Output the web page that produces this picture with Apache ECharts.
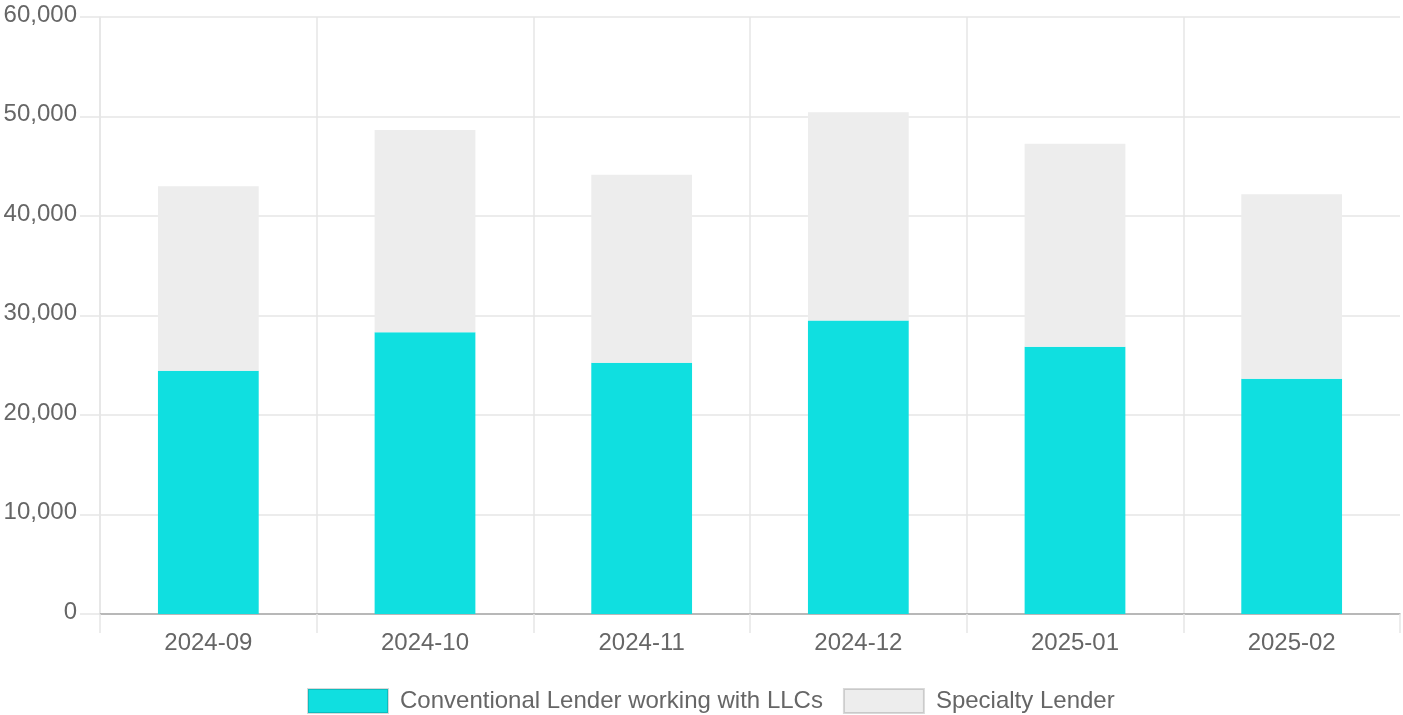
<!DOCTYPE html>
<html>
<head>
<meta charset="utf-8">
<title>Lender mix</title>
<script src="https://cdn.jsdelivr.net/npm/echarts@6/dist/echarts.min.js"></script>
<style>
html,body{
margin:0;
padding:0;
background:#fff;
}
#chart{
width:1403px;
height:715px;
}
</style>
</head>
<body>

<div id="chart"></div>

<script>

const months=["2024-09","2024-10","2024-11","2024-12","2025-01","2025-02"]

const conventional=[24450,28310,25260,29510,26870,23650]

const specialty=[18550,20330,18890,20910,20400,18530]

const seriesNames=["Conventional Lender working with LLCs","Specialty Lender"]

const yTicks={min:0,max:60000,interval:10000}

const chart=echarts.init(document.getElementById("chart"))

const font="'Liberation Sans', Arial, Helvetica, sans-serif"

const grey="#e6e6e6"

// one colour per boundary line (7 of them), the far right one left out
const vLines=months.map(()=>grey).concat(["rgba(0,0,0,0)"])

chart.setOption({

animation:false,

textStyle:{fontFamily:font},

legend:{
left:302,
top:683,
itemWidth:80,
itemHeight:24,
itemGap:20,
icon:"rect",
itemStyle:{borderColor:"rgba(0,0,0,0.15)",borderWidth:2},
textStyle:{fontSize:24,color:"#666",fontFamily:font,padding:[0,0,0,7]},
data:seriesNames
},

grid:{left:100,right:3,top:17,bottom:101,containLabel:false},

xAxis:{
type:"category",
data:months,
axisLine:{lineStyle:{color:"#a6a6a6",width:1.5}},
axisTick:{show:true,length:19,lineStyle:{color:grey,width:1.5}},
splitLine:{show:true,lineStyle:{color:vLines,width:1.5}},
axisLabel:{fontSize:24,color:"#666",margin:17,fontFamily:font}
},

yAxis:{
type:"value",
min:yTicks.min,
max:yTicks.max,
interval:yTicks.interval,
axisLine:{show:true,lineStyle:{color:grey,width:1.5}},
axisTick:{show:true,length:20,lineStyle:{color:grey,width:1.5}},
splitLine:{show:true,lineStyle:{color:grey,width:1.5}},
axisLabel:{
fontSize:24,
color:"#666",
margin:23,
verticalAlign:"bottom",
lineHeight:4,
fontFamily:font,
formatter:v=>v.toLocaleString("en-US")
}
},

series:[
{
name:seriesNames[0],
type:"bar",
stack:"total",
barWidth:"46.5%",
itemStyle:{color:"#10dfe0"},
data:conventional
},
{
name:seriesNames[1],
type:"bar",
stack:"total",
barWidth:"46.5%",
itemStyle:{color:"#ededed"},
data:specialty
}
]

})

</script>

</body>
</html>
